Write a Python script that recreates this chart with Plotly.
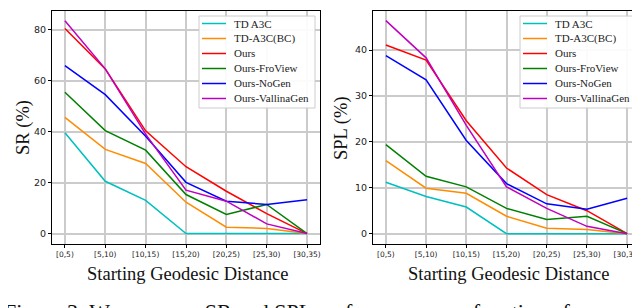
import plotly.graph_objects as go

categories = ["[0,5)", "[5,10)", "[10,15)", "[15,20)", "[20,25)", "[25,30)", "[30,35)"]
series_names = ["TD A3C", "TD-A3C(BC)", "Ours", "Ours-FroView", "Ours-NoGen", "Ours-VallinaGen"]
colors = ["#00BFBF", "#FF8C00", "#FF0000", "#008000", "#0000FF", "#BF00BF"]

sr_td_a3c = [39.5, 20.5, 13.0, 0, 0, 0, 0]
sr_td_a3c_bc = [45.6, 33.0, 27.5, 12.3, 2.5, 2.0, 0]
sr_ours = [80.4, 64.6, 40.3, 26.2, 16.6, 7.8, 0]
sr_ours_froview = [55.4, 40.4, 32.7, 15.3, 7.5, 11.4, 0]
sr_ours_nogen = [65.9, 54.5, 38.2, 20.1, 12.7, 11.4, 13.3]
sr_ours_vallinagen = [83.5, 64.6, 39.0, 17.0, 12.7, 3.8, 0]

spl_td_a3c = [11.2, 8.1, 5.8, 0, 0, 0, 0]
spl_td_a3c_bc = [15.9, 9.9, 8.8, 3.8, 1.2, 0.9, 0]
spl_ours = [41.1, 37.8, 24.6, 14.3, 8.5, 5.0, 0]
spl_ours_froview = [19.4, 12.5, 10.2, 5.5, 3.1, 3.8, 0]
spl_ours_nogen = [38.8, 33.5, 20.3, 10.9, 6.5, 5.3, 7.7]
spl_ours_vallinagen = [46.4, 38.3, 23.6, 10.2, 5.5, 1.6, 0]

sr_series = [sr_td_a3c, sr_td_a3c_bc, sr_ours, sr_ours_froview, sr_ours_nogen, sr_ours_vallinagen]
spl_series = [spl_td_a3c, spl_td_a3c_bc, spl_ours, spl_ours_froview, spl_ours_nogen, spl_ours_vallinagen]

sr_ticks = [0, 20, 40, 60, 80]
spl_ticks = [0, 10, 20, 30, 40]

W, H = 640, 308
SERIF = "Liberation Serif, Times New Roman, serif"
SANS = "DejaVu Sans, sans-serif"

fig = go.Figure()
for name, col, ys in zip(series_names, colors, sr_series):
    fig.add_trace(go.Scatter(x=categories, y=ys, mode="lines", name=name,
                             line=dict(color=col, width=1.5), xaxis="x", yaxis="y",
                             showlegend=False))
for name, col, ys in zip(series_names, colors, spl_series):
    fig.add_trace(go.Scatter(x=categories, y=ys, mode="lines", name=name,
                             line=dict(color=col, width=1.5), xaxis="x2", yaxis="y2",
                             showlegend=False))

def px_x(p):
    return p / W

def px_y(p):
    return 1 - p / H

ydom = [px_y(236), px_y(3)]
common_x = dict(type="category", categoryorder="array", categoryarray=categories,
                range=[-0.32, 6.32], showgrid=True, gridcolor="#cbcbcb", gridwidth=1.5,
                showline=True, linecolor="black", linewidth=1, mirror=True,
                ticks="outside", ticklen=3, tickcolor="black", tickwidth=1,
                tickfont=dict(family=SANS, size=7.5, color="#222"), automargin=False,
                zeroline=False, fixedrange=True)
common_y = dict(showgrid=True, gridcolor="#cbcbcb", gridwidth=1.5,
                showline=True, linecolor="black", linewidth=1, mirror=True,
                ticks="outside", ticklen=3, tickcolor="black", tickwidth=1,
                tickfont=dict(family=SANS, size=9.5, color="#222"), automargin=False,
                zeroline=False, domain=ydom, fixedrange=True)

fig.update_layout(
    width=W, height=H,
    margin=dict(l=0, r=0, t=0, b=0),
    paper_bgcolor="white", plot_bgcolor="white",
    xaxis=dict(domain=[px_x(44), px_x(312)], anchor="y", **common_x),
    yaxis=dict(anchor="x", range=[-4.1, 87.3], tickvals=sr_ticks, **common_y),
    xaxis2=dict(domain=[px_x(365), px_x(632)], anchor="y2", **common_x),
    yaxis2=dict(anchor="x2", range=[-2.25, 48.5], tickvals=spl_ticks, **common_y),
    showlegend=False,
)

# legends drawn as boxes (one per panel)
for left in (191, 512):
    fig.add_shape(type="rect", xref="paper", yref="paper", layer="above",
                  x0=px_x(left), x1=px_x(left + 116), y0=px_y(100), y1=px_y(8),
                  line=dict(color="#cccccc", width=1), fillcolor="rgba(255,255,255,0.92)")
    for i, (name, col) in enumerate(zip(series_names, colors)):
        yc = 15.5 + 15 * i
        fig.add_shape(type="line", xref="paper", yref="paper", layer="above",
                      x0=px_x(left + 3), x1=px_x(left + 27), y0=px_y(yc), y1=px_y(yc),
                      line=dict(color=col, width=1.5))
        fig.add_annotation(xref="paper", yref="paper", showarrow=False,
                           text=name, x=px_x(left + 33), y=px_y(yc),
                           xanchor="left", yanchor="middle",
                           font=dict(family=SERIF, size=11, color="#222"))

annotations = [
    dict(text="SR (%)", x=px_x(15), y=px_y(120), textangle=-90),
    dict(text="SPL (%)", x=px_x(333), y=px_y(120), textangle=-90),
    dict(text="Starting Geodesic Distance", x=px_x(179), y=px_y(266)),
    dict(text="Starting Geodesic Distance", x=px_x(500), y=px_y(266)),
]
for a in annotations:
    fig.add_annotation(xref="paper", yref="paper", showarrow=False,
                       xanchor="center", yanchor="middle",
                       font=dict(family=SERIF, size=18.5, color="#111"), **a)

fig.add_annotation(xref="paper", yref="paper", showarrow=False,
                   text="Figure 3: We compare SR and SPL performance as a function of",
                   x=px_x(-6), y=px_y(289), xanchor="left", yanchor="top",
                   font=dict(family=SERIF, size=22, color="#111"))

fig.write_html("out.html", config={"displayModeBar": False})
